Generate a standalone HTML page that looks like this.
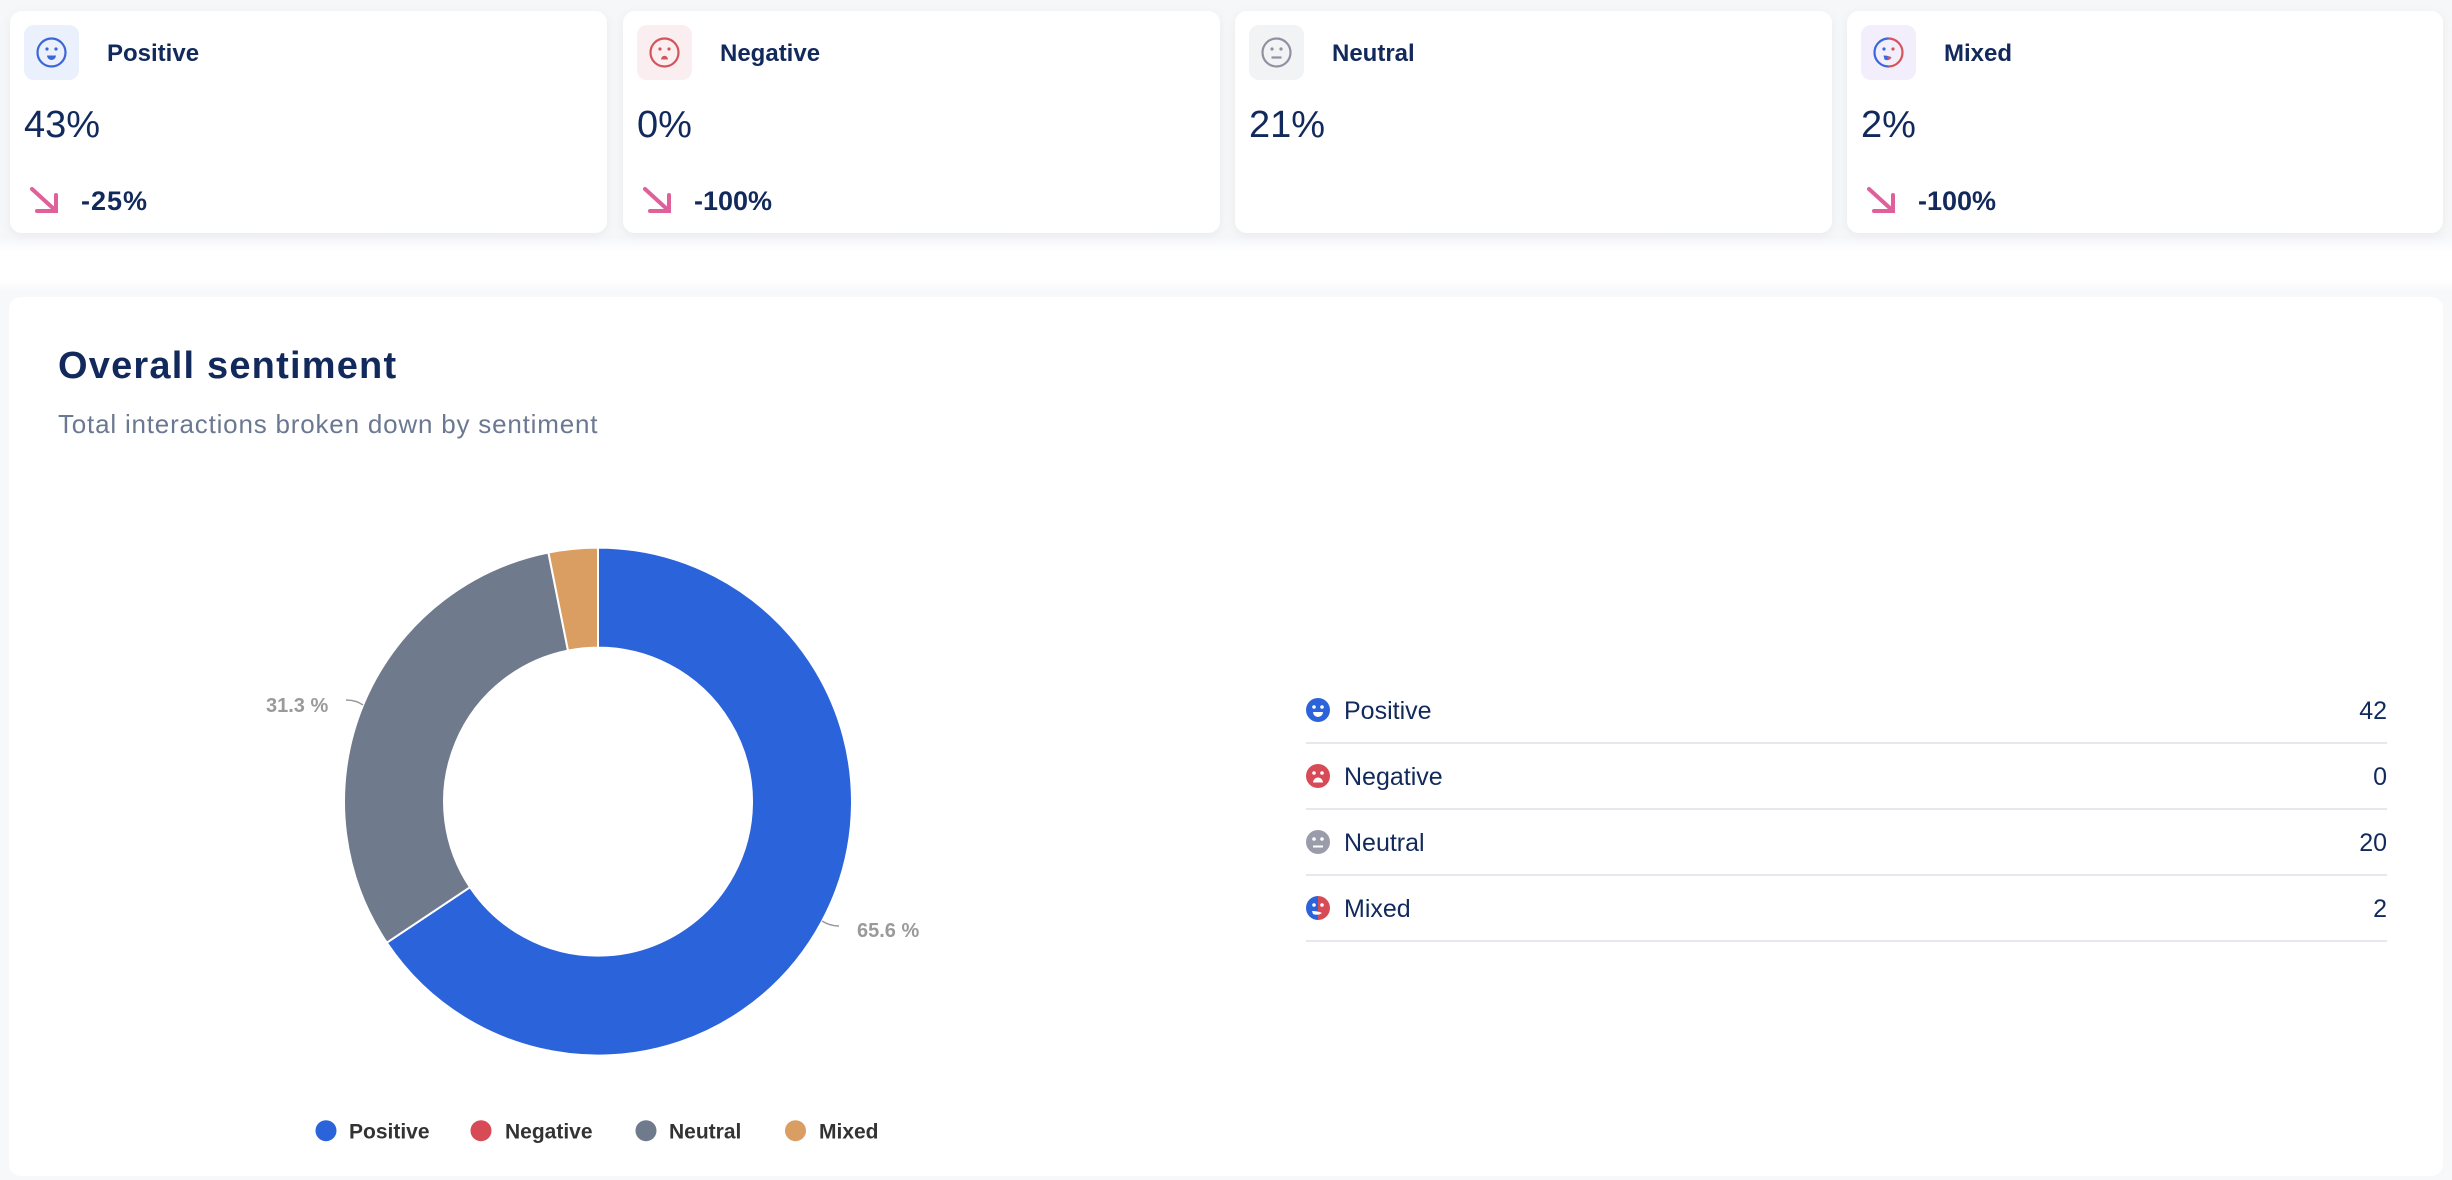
<!DOCTYPE html>
<html>
<head>
<meta charset="utf-8">
<style>
  html,body{margin:0;padding:0;background:#ffffff;}
  body{width:2452px;height:1180px;overflow:hidden;}
  svg{display:block;}
  text{font-family:"Liberation Sans",Arial,sans-serif;}
</style>
</head>
<body>
<svg width="2452" height="1180" viewBox="0 0 2452 1180" xmlns="http://www.w3.org/2000/svg">
  <defs>
    <linearGradient id="fadeTop" x1="0" y1="0" x2="0" y2="1">
      <stop offset="0" stop-color="#f5f6f9"/>
      <stop offset="1" stop-color="#ffffff"/>
    </linearGradient>
    <linearGradient id="fadeSec" x1="0" y1="0" x2="0" y2="1">
      <stop offset="0" stop-color="#ffffff"/>
      <stop offset="1" stop-color="#f7f8fa"/>
    </linearGradient>
    <filter id="sh" x="-5%" y="-10%" width="110%" height="130%">
      <feDropShadow dx="0" dy="3" stdDeviation="5" flood-color="#1e2a50" flood-opacity="0.05"/>
    </filter>
  </defs>

  <!-- background shading -->
  <rect x="0" y="0" width="2452" height="236" fill="#f6f7f9"/>
  <rect x="0" y="236" width="2452" height="16" fill="url(#fadeTop)"/>
  <rect x="0" y="280" width="2452" height="12" fill="url(#fadeSec)"/>
  <rect x="0" y="292" width="2452" height="888" fill="#f7f8fa"/>

  <!-- ===== Top cards ===== -->
  <!-- Card 1 Positive -->
  <rect x="10" y="11" width="597" height="222" rx="12" fill="#ffffff" filter="url(#sh)"/>
  <rect x="24" y="25" width="55" height="55" rx="10" fill="#eaf0fc"/>
  <g transform="translate(51.5,52.5)" fill="none" stroke="#3a66d8" stroke-width="2.2">
    <circle r="14"/>
    <circle cx="-4.5" cy="-3.5" r="1.6" fill="#3a66d8" stroke="none"/>
    <circle cx="4.5" cy="-3.5" r="1.6" fill="#3a66d8" stroke="none"/>
    <path d="M-4.5,3 A4.5,4.5 0 0 0 4.5,3 Z" fill="#3a66d8" stroke="none"/>
  </g>
  <text x="107" y="61" font-size="24" font-weight="700" fill="#12295c">Positive</text>
  <text x="24" y="137" font-size="38" fill="#12295c">43%</text>
  <g stroke="#e0609a" stroke-width="4" stroke-linecap="round" fill="none">
    <path d="M32,189 L55,210"/>
    <path d="M37,211 L56,211 L56,195"/>
  </g>
  <text x="81" y="210" font-size="27" font-weight="700" fill="#12295c" letter-spacing="1">-25%</text>

  <!-- Card 2 Negative -->
  <rect x="623" y="11" width="597" height="222" rx="12" fill="#ffffff" filter="url(#sh)"/>
  <rect x="637" y="25" width="55" height="55" rx="10" fill="#fbeef0"/>
  <g transform="translate(664.5,52.5)" fill="none" stroke="#d3555c" stroke-width="2.2">
    <circle r="14"/>
    <circle cx="-4.5" cy="-3.5" r="1.6" fill="#d3555c" stroke="none"/>
    <circle cx="4.5" cy="-3.5" r="1.6" fill="#d3555c" stroke="none"/>
    <path d="M-3.5,7 A3.5,3.8 0 0 1 3.5,7 Z" fill="#d3555c" stroke="none"/>
  </g>
  <text x="720" y="61" font-size="24" font-weight="700" fill="#12295c">Negative</text>
  <text x="637" y="137" font-size="38" fill="#12295c">0%</text>
  <g stroke="#e0609a" stroke-width="4" stroke-linecap="round" fill="none">
    <path d="M645,189 L668,210"/>
    <path d="M650,211 L669,211 L669,195"/>
  </g>
  <text x="694" y="210" font-size="27" font-weight="700" fill="#12295c">-100%</text>

  <!-- Card 3 Neutral -->
  <rect x="1235" y="11" width="597" height="222" rx="12" fill="#ffffff" filter="url(#sh)"/>
  <rect x="1249" y="25" width="55" height="55" rx="10" fill="#f2f3f5"/>
  <g transform="translate(1276.5,52.5)" fill="none" stroke="#8f91a0" stroke-width="2.2">
    <circle r="14"/>
    <circle cx="-4.5" cy="-3.5" r="1.6" fill="#8f91a0" stroke="none"/>
    <circle cx="4.5" cy="-3.5" r="1.6" fill="#8f91a0" stroke="none"/>
    <path d="M-5,5 H5"/>
  </g>
  <text x="1332" y="61" font-size="24" font-weight="700" fill="#12295c">Neutral</text>
  <text x="1249" y="137" font-size="38" fill="#12295c">21%</text>

  <!-- Card 4 Mixed -->
  <rect x="1847" y="11" width="596" height="222" rx="12" fill="#ffffff" filter="url(#sh)"/>
  <rect x="1861" y="25" width="55" height="55" rx="10" fill="#f3eefb"/>
  <g transform="translate(1888.5,52.5)">
    <path d="M0,-14 A14,14 0 0 0 0,14" fill="none" stroke="#3a66d8" stroke-width="2.2"/>
    <path d="M0,-14 A14,14 0 0 1 0,14" fill="none" stroke="#d3555c" stroke-width="2.2"/>
    <circle cx="-4.5" cy="-3.5" r="1.6" fill="#3a66d8"/>
    <circle cx="4.5" cy="-3.5" r="1.6" fill="#d3555c"/>
    <path d="M-5,3 Q0,3 3,5 Q0,9 -4,7 Z" fill="#3a66d8"/>
    <path d="M-1,4 Q2,4 3,5 Q1,8 -1,7 Z" fill="#d3555c"/>
  </g>
  <text x="1944" y="61" font-size="24" font-weight="700" fill="#12295c">Mixed</text>
  <text x="1861" y="137" font-size="38" fill="#12295c">2%</text>
  <g stroke="#e0609a" stroke-width="4" stroke-linecap="round" fill="none">
    <path d="M1869,189 L1892,210"/>
    <path d="M1874,211 L1893,211 L1893,195"/>
  </g>
  <text x="1918" y="210" font-size="27" font-weight="700" fill="#12295c">-100%</text>

  <!-- ===== Section card ===== -->
  <rect x="9" y="297" width="2434" height="879" rx="12" fill="#ffffff"/>
  <text x="58" y="378" font-size="38" font-weight="700" fill="#12295c" letter-spacing="1.2">Overall sentiment</text>
  <text x="58" y="433" font-size="26" fill="#6b7891" letter-spacing="0.8">Total interactions broken down by sentiment</text>

  <!-- Donut -->
  <g stroke="#ffffff" stroke-width="2" stroke-linejoin="round">
    <path d="M598,547.6 A254,254 0 1 1 386.8,942.7 L470.0,887.2 A154,154 0 1 0 598,647.6 Z" fill="#2b63db"/>
    <path d="M386.8,942.7 A254,254 0 0 1 548.4,552.5 L568.0,650.6 A154,154 0 0 0 470.0,887.2 Z" fill="#6f7a8c"/>
    <path d="M548.4,552.5 A254,254 0 0 1 598,547.6 L598,647.6 A154,154 0 0 0 568.0,650.6 Z" fill="#db9e62"/>
  </g>
  <!-- data labels -->
  <path d="M346,700 Q356,700 363,705" fill="none" stroke="#999999" stroke-width="1.5"/>
  <text x="266" y="712" font-size="20" font-weight="700" fill="#9a9a9a">31.3 %</text>
  <path d="M822,921 Q830,926 839,926" fill="none" stroke="#999999" stroke-width="1.5"/>
  <text x="857" y="937" font-size="20" font-weight="700" fill="#9a9a9a">65.6 %</text>

  <!-- bottom legend -->
  <circle cx="326" cy="1130.7" r="10.5" fill="#2b63db"/>
  <text x="349" y="1138.7" font-size="21" font-weight="700" fill="#333333">Positive</text>
  <circle cx="481" cy="1130.7" r="10.5" fill="#d64b55"/>
  <text x="505" y="1138.7" font-size="21" font-weight="700" fill="#333333">Negative</text>
  <circle cx="646" cy="1130.7" r="10.5" fill="#6f7a8c"/>
  <text x="669" y="1138.7" font-size="21" font-weight="700" fill="#333333">Neutral</text>
  <circle cx="795.5" cy="1130.7" r="10.5" fill="#db9e62"/>
  <text x="819" y="1138.7" font-size="21" font-weight="700" fill="#333333">Mixed</text>

  <!-- right legend table -->
  <g stroke="#e6e8ee" stroke-width="2">
    <line x1="1306" y1="743" x2="2387" y2="743"/>
    <line x1="1306" y1="809" x2="2387" y2="809"/>
    <line x1="1306" y1="875" x2="2387" y2="875"/>
    <line x1="1306" y1="941" x2="2387" y2="941"/>
  </g>

  <!-- Positive row -->
  <g transform="translate(1318,710)">
    <circle r="12" fill="#2b63db"/>
    <circle cx="-4" cy="-3" r="1.8" fill="#ffffff"/>
    <circle cx="4" cy="-3" r="1.8" fill="#ffffff"/>
    <path d="M-5,2 A5,5 0 0 0 5,2 Z" fill="#ffffff"/>
  </g>
  <text x="1344" y="719" font-size="25" fill="#12295c">Positive</text>
  <text x="2387" y="719" font-size="25" fill="#12295c" text-anchor="end">42</text>

  <!-- Negative row -->
  <g transform="translate(1318,776)">
    <circle r="12" fill="#d64b55"/>
    <circle cx="-4" cy="-3" r="1.8" fill="#ffffff"/>
    <circle cx="4" cy="-3" r="1.8" fill="#ffffff"/>
    <path d="M-5,6.5 A5,5 0 0 1 5,6.5 Z" fill="#ffffff"/>
  </g>
  <text x="1344" y="785" font-size="25" fill="#12295c">Negative</text>
  <text x="2387" y="785" font-size="25" fill="#12295c" text-anchor="end">0</text>

  <!-- Neutral row -->
  <g transform="translate(1318,842)">
    <circle r="12" fill="#9a9cab"/>
    <circle cx="-4" cy="-3" r="1.8" fill="#ffffff"/>
    <circle cx="4" cy="-3" r="1.8" fill="#ffffff"/>
    <path d="M-5,4.5 H5" stroke="#ffffff" stroke-width="2"/>
  </g>
  <text x="1344" y="851" font-size="25" fill="#12295c">Neutral</text>
  <text x="2387" y="851" font-size="25" fill="#12295c" text-anchor="end">20</text>

  <!-- Mixed row -->
  <g transform="translate(1318,908)">
    <path d="M0,-12 A12,12 0 0 0 0,12 Z" fill="#2b63db"/>
    <path d="M0,-12 A12,12 0 0 1 0,12 Z" fill="#d64b55"/>
    <circle cx="-4" cy="-3" r="1.8" fill="#ffffff"/>
    <circle cx="4" cy="-3" r="1.8" fill="#ffffff"/>
    <path d="M-6,3 Q0,3 4,5 Q0,8 -5,6 Z" fill="#ffffff"/>
  </g>
  <text x="1344" y="917" font-size="25" fill="#12295c">Mixed</text>
  <text x="2387" y="917" font-size="25" fill="#12295c" text-anchor="end">2</text>
</svg>
</body>
</html>
